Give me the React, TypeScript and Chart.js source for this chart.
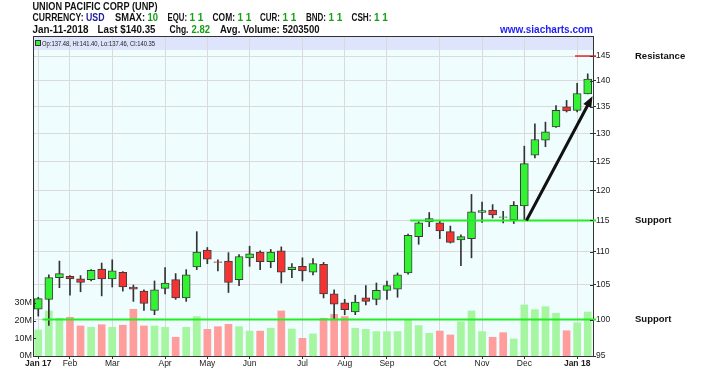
import React, { useEffect, useRef } from 'react';
import { Chart, registerables } from 'chart.js';

Chart.register(...registerables);

// ---------- data ----------
const weekDates = [
  '2017-01-13', '2017-01-20', '2017-01-27', '2017-02-03', '2017-02-10', '2017-02-17', '2017-02-24',
  '2017-03-03', '2017-03-10', '2017-03-17', '2017-03-24', '2017-03-31', '2017-04-07', '2017-04-14',
  '2017-04-21', '2017-04-28', '2017-05-05', '2017-05-12', '2017-05-19', '2017-05-26', '2017-06-02',
  '2017-06-09', '2017-06-16', '2017-06-23', '2017-06-30', '2017-07-07', '2017-07-14', '2017-07-21',
  '2017-07-28', '2017-08-04', '2017-08-11', '2017-08-18', '2017-08-25', '2017-09-01', '2017-09-08',
  '2017-09-15', '2017-09-22', '2017-09-29', '2017-10-06', '2017-10-13', '2017-10-20', '2017-10-27',
  '2017-11-03', '2017-11-10', '2017-11-17', '2017-11-24', '2017-12-01', '2017-12-08', '2017-12-15',
  '2017-12-22', '2017-12-29', '2018-01-05', '2018-01-11',
];

const opens = [
  101.5, 102.9, 106.1, 106.3, 105.9, 105.8, 107.4, 105.9, 106.9, 104.7, 104.1, 101.3, 104.5, 105.8,
  103.1, 107.7, 110.3, 108.5, 108.6, 105.8, 109.1, 110.0, 108.5, 110.2, 107.3, 107.8, 106.9, 108.1,
  103.7, 102.4, 101.1, 103.1, 102.9, 104.2, 104.4, 106.8, 112.4, 114.8, 114.6, 113.2, 111.9, 112.1,
  116.3, 116.7, 115.5, 115.1, 117.4, 126.1, 128.8, 131.2, 135.0, 134.3, 137.48,
];
const highs = [
  103.2, 106.5, 108.6, 106.4, 106.4, 107.3, 108.3, 108.8, 107.0, 105.0, 104.3, 105.6, 107.6, 106.7,
  107.3, 113.2, 110.7, 108.8, 109.9, 109.6, 110.9, 110.2, 110.4, 110.8, 108.2, 109.1, 109.0, 108.4,
  104.3, 102.9, 103.5, 104.9, 105.3, 105.6, 106.8, 112.8, 114.8, 116.3, 115.0, 114.1, 112.7, 119.3,
  118.0, 117.6, 116.5, 118.1, 127.7, 131.8, 132.1, 135.2, 136.2, 139.5, 141.4,
];
const lows = [
  100.5, 99.2, 104.6, 103.5, 104.0, 105.6, 103.4, 104.7, 104.1, 102.6, 101.3, 100.7, 103.7, 102.9,
  102.6, 107.3, 108.2, 107.1, 103.9, 104.9, 107.8, 107.3, 107.6, 105.3, 106.1, 105.6, 106.5, 103.1,
  100.1, 100.7, 100.7, 102.1, 102.1, 102.9, 103.2, 106.6, 111.2, 114.0, 112.1, 111.4, 107.9, 109.1,
  114.7, 115.4, 114.6, 114.5, 115.1, 125.6, 127.6, 131.1, 134.0, 134.0, 137.46,
];
const closes = [
  103.0, 106.1, 106.7, 105.9, 105.4, 107.2, 105.9, 107.1, 104.7, 104.4, 102.3, 104.3, 105.3, 103.1,
  106.5, 110.0, 108.9, 108.4, 105.4, 109.3, 109.7, 108.5, 110.0, 106.9, 107.7, 107.1, 108.2, 103.7,
  102.2, 101.4, 102.5, 102.6, 104.2, 104.9, 106.5, 112.6, 114.6, 115.3, 113.3, 111.5, 112.4, 116.4,
  116.6, 115.9, 115.6, 117.5, 124.6, 128.9, 130.3, 134.3, 134.2, 137.53, 140.35,
];
// weekly volume, millions
const volumesM = [
  14.7, 25.5, 21.3, 21.9, 17.0, 16.2, 17.7, 16.2, 17.4, 26.4, 17.0, 17.0, 16.2, 10.6,
  16.2, 22.3, 15.1, 16.6, 17.9, 16.6, 14.1, 14.1, 15.7, 25.5, 15.3, 10.0, 12.5, 21.3,
  23.6, 22.3, 15.7, 15.1, 13.8, 13.8, 13.8, 20.8, 17.2, 12.8, 14.1, 11.9, 19.4, 25.5,
  13.8, 10.6, 13.2, 9.6, 28.9, 26.2, 27.9, 24.2, 14.3, 18.8, 24.9,
];

const monthTickIndex = [0, 3, 7, 12, 16, 20, 25, 29, 33, 38, 42, 46, 51];
const monthTickText = ['Jan 17', 'Feb', 'Mar', 'Apr', 'May', 'Jun', 'Jul', 'Aug', 'Sep', 'Oct', 'Nov', 'Dec', 'Jan 18'];
const boldTickIndex = [0, 51];

const priceTicks = [95, 100, 105, 110, 115, 120, 125, 130, 135, 140, 145];
const volumeTicksM = [0, 10, 20, 30];

const resistanceLevels = [145];
const resistanceFrom = [50.8];
const supportLevels = [115, 100];
const supportFrom = [35.2, 0.4];
const trendFrom = [46.2, 115];
const trendTo = [52.45, 137];

const avgVolume = 5203500;

// ---------- styles ----------
const FONT = 'Liberation Sans, Arial, sans-serif';
const UP = '#33f233';
const DOWN = '#f53333';
const VOL_UP = '#a6f5a0';
const VOL_DOWN = '#ff9c9c';
const EDGE = '#3c3c3c';
const GRID = '#dadada';
const PLOT_BG = '#f0fdff';
const STRIP_BG = '#dde4fb';

const overlayPlugin = {
  id: 'overlay',
  beforeDraw(chart: any) {
    const { ctx, chartArea: a } = chart;
    ctx.save();
    ctx.fillStyle = PLOT_BG;
    ctx.fillRect(a.left, a.top, a.right - a.left, a.bottom - a.top);
    ctx.fillStyle = STRIP_BG;
    ctx.fillRect(a.left, a.top, a.right - a.left, 14);
    ctx.restore();
  },
  afterDatasetsDraw(chart: any) {
    const { ctx, chartArea: a, scales } = chart;
    const xs = scales.x;
    const ps = scales.price;
    ctx.save();
    supportLevels.forEach((lvl, i) => {
      const y = ps.getPixelForValue(lvl);
      ctx.strokeStyle = '#22ee22';
      ctx.lineWidth = 2;
      ctx.beginPath();
      ctx.moveTo(xs.getPixelForValue(supportFrom[i]), y);
      ctx.lineTo(a.right + 3, y);
      ctx.stroke();
    });
    resistanceLevels.forEach((lvl, i) => {
      const y = ps.getPixelForValue(lvl);
      ctx.strokeStyle = '#ee2020';
      ctx.lineWidth = 1.5;
      ctx.beginPath();
      ctx.moveTo(xs.getPixelForValue(resistanceFrom[i]), y);
      ctx.lineTo(a.right + 3, y);
      ctx.stroke();
    });
    const x1 = xs.getPixelForValue(trendFrom[0]);
    const y1 = ps.getPixelForValue(trendFrom[1]);
    const x2 = xs.getPixelForValue(trendTo[0]);
    const y2 = ps.getPixelForValue(trendTo[1]);
    const ang = Math.atan2(y2 - y1, x2 - x1);
    const hl = 11;
    const hw = 4.5;
    const bx = x2 - hl * Math.cos(ang);
    const by = y2 - hl * Math.sin(ang);
    ctx.strokeStyle = '#111';
    ctx.lineWidth = 3;
    ctx.beginPath();
    ctx.moveTo(x1, y1);
    ctx.lineTo(bx + 2 * Math.cos(ang), by + 2 * Math.sin(ang));
    ctx.stroke();
    ctx.fillStyle = '#111';
    ctx.beginPath();
    ctx.moveTo(x2, y2);
    ctx.lineTo(bx + hw * Math.sin(ang), by - hw * Math.cos(ang));
    ctx.lineTo(bx - hw * Math.sin(ang), by + hw * Math.cos(ang));
    ctx.closePath();
    ctx.fill();
    ctx.restore();
  },
  afterDraw(chart: any) {
    const { ctx, chartArea: a, scales } = chart;
    const ps = scales.price;
    const vs = scales.vol;
    ctx.save();
    ctx.strokeStyle = '#333';
    ctx.lineWidth = 1;
    ctx.beginPath();
    ctx.moveTo(a.left, a.top + 0.5);
    ctx.lineTo(a.right, a.top + 0.5);
    ctx.stroke();
    volumeTicksM.forEach((v) => {
      const y = Math.round(vs.getPixelForValue(v * 1e6)) + 0.5;
      ctx.beginPath();
      ctx.moveTo(a.left, y);
      ctx.lineTo(a.left + 3, y);
      ctx.stroke();
    });
    priceTicks.forEach((v) => {
      const y = Math.round(ps.getPixelForValue(v)) + 0.5;
      ctx.beginPath();
      ctx.moveTo(a.right - 3, y);
      ctx.lineTo(a.right, y);
      ctx.stroke();
    });

    const n = closes.length - 1;
    const txt = (s: string, x: number, y: number, color: string, w: number, bold = true, size = 10) => {
      ctx.font = `${bold ? 'bold ' : ''}${size}px ${FONT}`;
      ctx.fillStyle = color;
      ctx.textAlign = 'left';
      ctx.textBaseline = 'alphabetic';
      ctx.fillText(s, x, y, w);
    };
    const BLK = '#111';
    const GRN = '#15a015';
    const BLU = '#1c1c9c';
    txt('UNION PACIFIC CORP (UNP)', 32.5, 9.5, BLK, 125);
    const y2 = 20.6;
    txt('CURRENCY:', 32.5, y2, BLK, 51);
    txt('USD', 86, y2, BLU, 18.5);
    txt('SMAX:', 115, y2, BLK, 30);
    txt('10', 147.5, y2, GRN, 10.5);
    txt('EQU:', 167.5, y2, BLK, 19.5);
    txt('1 1', 189.5, y2, GRN, 14.5);
    txt('COM:', 212.5, y2, BLK, 22.5);
    txt('1 1', 237.5, y2, GRN, 14.5);
    txt('CUR:', 260, y2, BLK, 20);
    txt('1 1', 282.5, y2, GRN, 14.5);
    txt('BND:', 306, y2, BLK, 20);
    txt('1 1', 328.5, y2, GRN, 14.5);
    txt('CSH:', 351.5, y2, BLK, 20);
    txt('1 1', 374, y2, GRN, 14.5);
    const y3 = 33.2;
    txt('Jan-11-2018', 32.5, y3, BLK, 56);
    txt(`Last $${closes[n].toFixed(2)}`, 97.5, y3, BLK, 58);
    txt('Chg.', 169.5, y3, BLK, 19);
    txt((closes[n] - closes[n - 1]).toFixed(2), 191.5, y3, GRN, 18.5);
    txt(`Avg. Volume: ${avgVolume}`, 220, y3, BLK, 99.5);
    ctx.font = `bold 10px ${FONT}`;
    ctx.fillStyle = '#1f1ff0';
    ctx.textAlign = 'right';
    ctx.fillText('www.siacharts.com', a.right, y3, 93);

    ctx.fillStyle = UP;
    ctx.fillRect(35.5, 40.5, 5, 5);
    ctx.strokeStyle = '#333';
    ctx.strokeRect(35.5, 40.5, 5, 5);
    txt(
      `Op:${opens[n].toFixed(2)}, Hi:${highs[n].toFixed(2)}, Lo:${lows[n].toFixed(2)}, Cl:${closes[n].toFixed(2)}`,
      42, 46, '#222', 113, false, 7.8
    );

    ctx.font = `bold 9.5px ${FONT}`;
    ctx.fillStyle = '#111';
    ctx.textAlign = 'left';
    ctx.textBaseline = 'middle';
    resistanceLevels.forEach((lvl) => ctx.fillText('Resistance', 635, ps.getPixelForValue(lvl)));
    supportLevels.forEach((lvl) => ctx.fillText('Support', 635, ps.getPixelForValue(lvl)));
    ctx.restore();
  },
};

export default function App() {
  const ref = useRef<HTMLCanvasElement | null>(null);

  useEffect(() => {
    if (!ref.current) return;
    const bodyColors = opens.map((o, i) => (closes[i] >= o ? UP : DOWN));
    const volColors = closes.map((c, i) => (i === 0 || c >= closes[i - 1] ? VOL_UP : VOL_DOWN));
    const chart = new Chart(ref.current, {
      type: 'bar',
      data: {
        labels: weekDates,
        datasets: [
          {
            label: 'Volume',
            data: volumesM.map((v) => v * 1e6),
            yAxisID: 'vol',
            backgroundColor: volColors,
            barThickness: 7,
            grouped: false,
            order: 3,
          } as any,
          {
            label: 'Range',
            data: lows.map((l, i) => [l, highs[i]]),
            yAxisID: 'price',
            backgroundColor: '#333',
            barThickness: 1,
            grouped: false,
            order: 2,
          } as any,
          {
            label: 'Body',
            data: opens.map((o, i) => [o, closes[i]]),
            yAxisID: 'price',
            backgroundColor: bodyColors,
            borderColor: EDGE,
            borderWidth: 1,
            borderSkipped: false,
            barThickness: 8,
            grouped: false,
            order: 1,
          } as any,
        ],
      },
      options: {
        responsive: false,
        animation: false,
        events: [],
        layout: { padding: { top: 36, left: 0, right: 0, bottom: 0 } },
        plugins: { legend: { display: false }, tooltip: { enabled: false } },
        scales: {
          x: {
            type: 'category',
            offset: true,
            afterFit: (s: any) => { s.height = 17; },
            grid: {
              offset: false,
              drawTicks: true,
              tickLength: 3,
              color: (c: any) => (monthTickIndex.includes(c.index) ? GRID : 'rgba(0,0,0,0)'),
              tickColor: (c: any) => (monthTickIndex.includes(c.index) ? '#333' : 'rgba(0,0,0,0)'),
            },
            border: { display: true, color: '#333', width: 1 },
            ticks: {
              autoSkip: false,
              maxRotation: 0,
              padding: 0,
              color: '#222',
              font: (c: any) => ({ family: FONT, size: 8.5, weight: boldTickIndex.includes(c.index) ? 'bold' : 'normal' }),
              callback: (_v: any, i: number) => {
                const k = monthTickIndex.indexOf(i);
                return k >= 0 ? monthTickText[k] : '';
              },
            },
          },
          vol: {
            type: 'linear',
            position: 'left',
            min: 0,
            max: 181e6,
            afterFit: (s: any) => { s.width = 33; },
            afterBuildTicks: (s: any) => { s.ticks = volumeTicksM.map((v) => ({ value: v * 1e6 })); },
            grid: { display: false, drawTicks: false },
            border: { display: true, color: '#333', width: 1 },
            ticks: {
              padding: 1,
              color: '#222',
              font: { family: FONT, size: 9 },
              callback: (v: any) => `${Math.round(Number(v) / 1e6)}M`,
            },
          },
          price: {
            type: 'logarithmic',
            position: 'right',
            min: 95,
            max: 149.15,
            afterFit: (s: any) => { s.width = 135; },
            afterBuildTicks: (s: any) => { s.ticks = priceTicks.map((v) => ({ value: v })); },
            grid: { color: GRID, tickColor: '#333', tickLength: 3, drawTicks: true },
            border: { display: true, color: '#333', width: 1 },
            ticks: {
              padding: 0,
              color: '#222',
              font: { family: FONT, size: 8.5 },
              callback: (v: any) => String(v),
            },
          },
        },
      } as any,
      plugins: [overlayPlugin],
    });
    return () => chart.destroy();
  }, []);

  return (
    <div style={{ position: 'fixed', left: 0, top: 0, width: 728, height: 373, background: '#fff' }}>
      <canvas ref={ref} width={728} height={373} style={{ width: 728, height: 373, display: 'block' }} />
    </div>
  );
}
